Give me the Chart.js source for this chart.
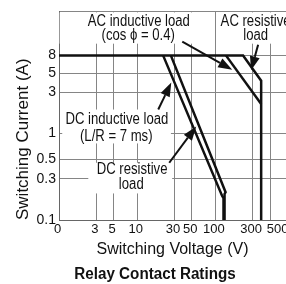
<!DOCTYPE html>
<html>
<head>
<meta charset="utf-8">
<script src="https://cdn.jsdelivr.net/npm/chart.js@4"></script>
<style>
html, body { margin: 0; padding: 0; background: #fff; }
#wrap { width: 286px; height: 284px; }
</style>
</head>
<body>
<div id="wrap"><canvas id="relay-chart"></canvas></div>
<script>
const FONT = "'Liberation Sans', Arial, sans-serif";
const INK = '#111';
const GRID = '#858585';

// ticks as printed (the "0" sits on the 1 V line of the log axis)
const voltTicks = [1, 3, 5, 10, 30, 50, 100, 300, 500];
const voltLabels = ['0', '3', '5', '10', '30', '50', '100', '300', '500'];
const ampTicks = [0.1, 0.3, 0.5, 1, 3, 5, 8];
const ampLabels = ['0.1', '0.3', '0.5', '1', '3', '5', '8'];

// rating curves (volts, amps)
const acResVolt = [1, 226, 385, 385];
const acResAmp = [8, 8, 4.1, 0.1];
const acIndVolt = [137, 385];
const acIndAmp = [8, 2.2];
const dcIndVolt = [21.5, 122, 127, 127];
const dcIndAmp = [8, 0.19, 0.18, 0.1];
const dcResVolt = [27, 135, 131, 131];
const dcResAmp = [8, 0.21, 0.2, 0.1];

const toPoints = (vs, as) => vs.map((v, i) => ({x: v, y: as[i]}));

// callouts, placed in data units
const noteBoxes = [
    {v0: 1.02, v1: 95, a0: null, a1: 11},
    {v0: 108, v1: null, a0: null, a1: 11},
    {v0: 1.1, v1: 27, a0: 1.9, a1: 0.77},
    {v0: 2.37, v1: 28, a0: 0.46, a1: 0.203},
];
const noteTexts = [
    {text: 'AC inductive load', v: 10.5, a: 19.8},
    {text: '(cos \u03D5 = 0.4)', v: 10.3, a: 13.5},
    {text: 'AC resistive', v: 327, a: 19.8},
    {text: 'load', v: 327, a: 13.5},
    {text: 'DC inductive load', v: 5.5, a: 1.44},
    {text: '(L/R = 7 ms)', v: 5.4, a: 0.93},
    {text: 'DC resistive', v: 8.6, a: 0.38},
    {text: 'load', v: 8.4, a: 0.254},
];
const noteArrows = [
    {v0: 37.7, a0: 11.6, v1: 164, a1: 5.5},
    {v0: 352, a0: 10.7, v1: 286, a1: 5.4},
    {v0: 18.6, a0: 1.9, v1: 27.3, a1: 3.9},
    {v0: 25.7, a0: 0.46, v1: 56.9, a1: 1.21},
];

// the printed type is a condensed face, squeeze the text horizontally
function narrowText(ctx, text, x, y, k) {
    ctx.save();
    ctx.translate(x, y);
    ctx.scale(k, 1);
    ctx.fillText(text, 0, 0);
    ctx.restore();
}

function drawArrow(ctx, x0, y0, x1, y1) {
    const ang = Math.atan2(y1 - y0, x1 - x0);
    const len = 14, half = 5;
    const bx = x1 - len * Math.cos(ang), by = y1 - len * Math.sin(ang);
    ctx.beginPath();
    ctx.moveTo(x0, y0);
    ctx.lineTo(bx, by);
    ctx.stroke();
    ctx.beginPath();
    ctx.moveTo(x1, y1);
    ctx.lineTo(bx + half * Math.sin(ang), by - half * Math.cos(ang));
    ctx.lineTo(bx - half * Math.sin(ang), by + half * Math.cos(ang));
    ctx.closePath();
    ctx.fill();
}

const callouts = {
    id: 'callouts',
    beforeDatasetsDraw(chart) {
        const {ctx, chartArea, scales: {x, y}} = chart;
        ctx.save();
        ctx.fillStyle = '#fff';
        noteBoxes.forEach(b => {
            const l = x.getPixelForValue(b.v0);
            const r = b.v1 === null ? chartArea.right : x.getPixelForValue(b.v1);
            const t = b.a0 === null ? chartArea.top + 1 : y.getPixelForValue(b.a0);
            const btm = y.getPixelForValue(b.a1);
            ctx.fillRect(l, t, r - l, btm - t);
        });
        ctx.fillStyle = INK;
        ctx.font = '16px ' + FONT;
        ctx.textAlign = 'center';
        ctx.textBaseline = 'middle';
        noteTexts.forEach(n => narrowText(ctx, n.text, x.getPixelForValue(n.v), y.getPixelForValue(n.a), 0.82));
        ctx.restore();
    },
    afterDatasetsDraw(chart) {
        const {ctx, scales: {x, y}} = chart;
        ctx.save();
        ctx.strokeStyle = INK;
        ctx.fillStyle = INK;
        ctx.lineWidth = 2;
        noteArrows.forEach(a => drawArrow(ctx,
            x.getPixelForValue(a.v0), y.getPixelForValue(a.a0),
            x.getPixelForValue(a.v1), y.getPixelForValue(a.a1)));
        ctx.restore();
    },
    afterDraw(chart) {
        const {ctx} = chart;
        ctx.save();
        ctx.fillStyle = INK;
        ctx.font = 'bold 16px ' + FONT;
        ctx.textAlign = 'center';
        ctx.textBaseline = 'middle';
        narrowText(ctx, 'Relay Contact Ratings', 155, 275, 0.95);
        ctx.restore();
    }
};

const lineStyle = {
    showLine: true,
    borderColor: INK,
    borderWidth: 2.5,
    pointRadius: 0,
    fill: false,
    tension: 0,
};

new Chart(document.getElementById('relay-chart'), {
    type: 'scatter',
    data: {
        datasets: [
            {label: 'AC resistive load', data: toPoints(acResVolt, acResAmp), ...lineStyle},
            {label: 'AC inductive load', data: toPoints(acIndVolt, acIndAmp), ...lineStyle},
            {label: 'DC inductive load', data: toPoints(dcIndVolt, dcIndAmp), ...lineStyle},
            {label: 'DC resistive load', data: toPoints(dcResVolt, dcResAmp), ...lineStyle},
        ],
    },
    options: {
        responsive: true,
        maintainAspectRatio: false,
        animation: false,
        layout: {padding: {top: 11, right: 0, bottom: 24, left: 0}},
        plugins: {
            legend: {display: false},
            tooltip: {enabled: false},
        },
        scales: {
            x: {
                type: 'logarithmic',
                min: 1,
                max: 800,
                afterBuildTicks: s => { s.ticks = voltTicks.map(v => ({value: v})); },
                afterFit: s => { s.height = 40; s.paddingLeft = 0; s.paddingRight = 0; },
                ticks: {
                    autoSkip: false,
                    maxRotation: 0,
                    padding: 2,
                    labelOffset: -1.5,
                    color: INK,
                    font: {family: FONT, size: 13},
                    callback: v => {
                        const i = voltTicks.indexOf(v);
                        if (i < 0) return '';
                        // last label is printed shifted right, clear of "300"
                        return i === voltTicks.length - 1 ? '     ' + voltLabels[i] : voltLabels[i];
                    },
                },
                grid: {color: GRID, lineWidth: 1, drawTicks: false},
                border: {color: '#666', width: 1},
                title: {
                    display: true,
                    text: 'Switching Voltage (V)',
                    color: INK,
                    font: {family: FONT, size: 16},
                    padding: {top: 0, bottom: 1},
                },
            },
            y: {
                type: 'logarithmic',
                min: 0.1,
                max: 26,
                afterBuildTicks: s => { s.ticks = ampTicks.map(v => ({value: v})).concat([{value: s.max}]); },
                afterFit: s => { s.width = 59; },
                ticks: {
                    autoSkip: false,
                    padding: 3,
                    color: INK,
                    font: {family: FONT, size: 14},
                    callback: v => { const i = ampTicks.indexOf(v); return i < 0 ? '' : ampLabels[i]; },
                },
                grid: {color: GRID, lineWidth: 1, drawTicks: false},
                border: {color: '#666', width: 1},
                title: {
                    display: true,
                    text: 'Switching Current (A)',
                    align: 'start',
                    color: INK,
                    font: {family: FONT, size: 17},
                    padding: {top: 13, bottom: 0},
                },
            },
        },
    },
    plugins: [callouts],
});
</script>
</body>
</html>
